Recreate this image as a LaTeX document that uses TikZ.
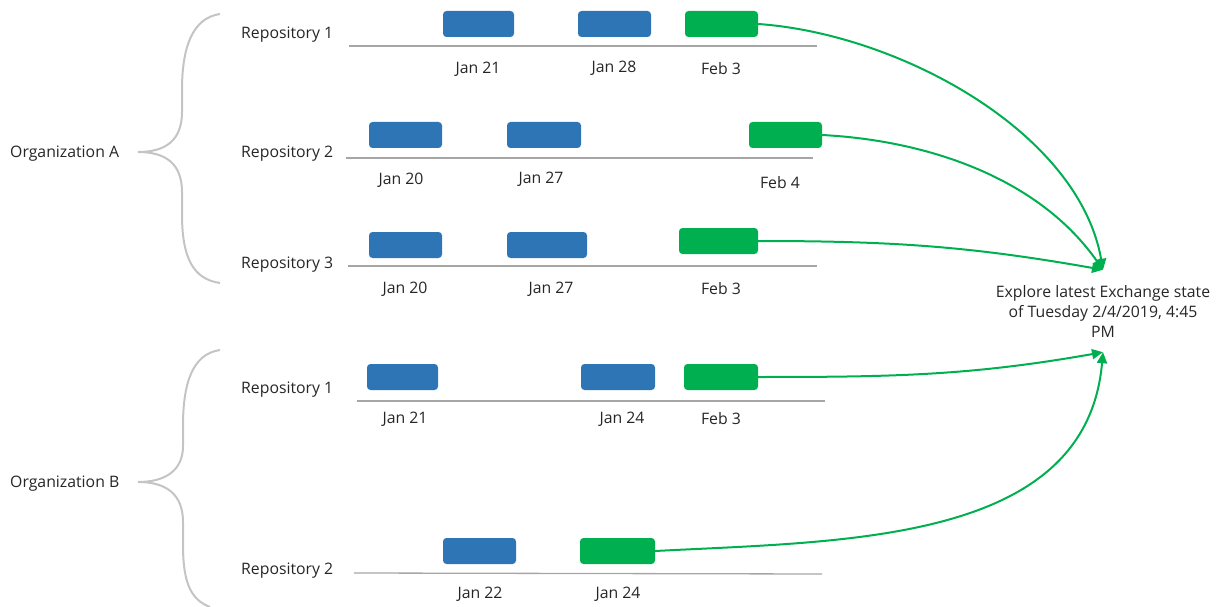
\documentclass[tikz,border=0pt]{standalone}
\usepackage{fontspec}
\setmainfont{Open Sans}
\usepackage{tikz}
\usetikzlibrary{arrows.meta, positioning}
\definecolor{snapblue}{HTML}{2E75B6}
\definecolor{snapgreen}{HTML}{00B050}
\definecolor{bracegray}{HTML}{C4C4C4}
\definecolor{linegray}{HTML}{A6A6A6}
\definecolor{txt}{HTML}{262626}
\tikzstyle{snap} = [rectangle, rounded corners=3.5pt, minimum width=73pt, minimum height=26pt, inner sep=0pt, fill=snapblue]
\tikzstyle{latest} = [snap, fill=snapgreen]
\tikzstyle{brace} = [draw=bracegray, line width=2pt]
\tikzstyle{timeline} = [draw=linegray, line width=1.3pt]
\tikzstyle{arrow} = [draw=snapgreen, line width=2pt, -{Triangle[length=11pt,width=10pt]}]
\tikzstyle{repo} = [anchor=west, inner sep=0pt]

\begin{document}
\begin{tikzpicture}[x=1pt, y=-1pt, every node/.style={font=\fontsize{15.8}{20}\selectfont, text=txt}]
  \useasboundingbox (0,0) rectangle (1216,607);

  % organizations and braces
  \node[anchor=west, inner sep=0pt] (orgA) at (10,154) {Organization A};
  \node[anchor=west, inner sep=0pt] (orgB) at (10,484) {Organization B};
  \draw[brace] (220,14) .. controls (192,18) and (182,48) .. (182,90) -- (182,112)
    .. controls (182,140) and (166,152) .. (138,152)
    .. controls (166,152) and (182,164) .. (182,192) -- (182,214)
    .. controls (182,256) and (192,279) .. (220,283);
  \draw[brace] (220,350) .. controls (192,354) and (183,384) .. (183,426) -- (183,446)
    .. controls (183,470) and (166,482) .. (138,482)
    .. controls (166,482) and (183,494) .. (183,522) -- (183,545)
    .. controls (183,585) and (192,600) .. (210,607);

  % organization A, repository 1
  \node[repo] (a1) at (241,35) {Repository 1};
  \coordinate (a1s) at (349,46);
  \coordinate (a1e) at (817,46);
  \draw[timeline] (a1s) -- (a1e);
  \node[snap, minimum width=71pt] (a1x) at (478.5,24) {};
  \node[snap] (a1y) at (614.5,24) {};
  \node[latest] (a1z) at (721.5,24) {};
  \node (a1xl) at (478,69) {Jan 21};
  \node (a1yl) at (614,68) {Jan 28};
  \node (a1zl) at (721,69) {Feb 3};

  % organization A, repository 2
  \node[repo] (a2) at (241,154) {Repository 2};
  \coordinate (a2s) at (346,158);
  \coordinate (a2e) at (813,158);
  \draw[timeline] (a2s) -- (a2e);
  \node[snap] (a2x) at (405.5,135) {};
  \node[snap, minimum width=74pt] (a2y) at (544,135) {};
  \node[latest] (a2z) at (785.5,135) {};
  \node (a2xl) at (401,180) {Jan 20};
  \node (a2yl) at (541,179) {Jan 27};
  \node (a2zl) at (780,183) {Feb 4};

  % organization A, repository 3
  \node[repo] (a3) at (241,265) {Repository 3};
  \coordinate (a3s) at (348,266);
  \coordinate (a3e) at (817,266);
  \draw[timeline] (a3s) -- (a3e);
  \node[snap] (a3x) at (405.5,245) {};
  \node[snap, minimum width=80pt] (a3y) at (547,245) {};
  \node[latest, minimum width=79pt] (a3z) at (718.5,241) {};
  \node (a3xl) at (405,289) {Jan 20};
  \node (a3yl) at (551,289) {Jan 27};
  \node (a3zl) at (721,289) {Feb 3};

  % organization B, repository 1
  \node[repo] (b1) at (241,390) {Repository 1};
  \coordinate (b1s) at (357,401);
  \coordinate (b1e) at (825,401);
  \draw[timeline] (b1s) -- (b1e);
  \node[snap, minimum width=71pt] (b1x) at (402.5,377) {};
  \node[snap, minimum width=74pt] (b1y) at (618,377) {};
  \node[latest, minimum width=74pt] (b1z) at (721,377) {};
  \node (b1xl) at (405,419) {Jan 21};
  \node (b1yl) at (622,419) {Jan 24};
  \node (b1zl) at (721,419) {Feb 3};

  % organization B, repository 2
  \node[repo] (b2) at (241,571) {Repository 2};
  \coordinate (b2s) at (354,573);
  \coordinate (b2e) at (822,574);
  \draw[timeline] (b2s) -- (b2e);
  \node[snap] (b2x) at (479.5,551) {};
  \node[latest, minimum width=75pt] (b2z) at (617.5,551) {};
  \node (b2xl) at (480,594) {Jan 22};
  \node (b2zl) at (618,594) {Jan 24};

  % latest state
  \node[align=center, inner xsep=0pt, inner ysep=15pt] (state) at (1103,311)
    {Explore latest Exchange state\\of Tuesday 2/4/2019, 4:45\\PM};

  \draw[arrow] (a1z.east) to[out=-4, in=100, looseness=0.85] (state.north);
  \draw[arrow] (a2z.east) to[out=-3, in=125, looseness=0.9] (state.north);
  \draw[arrow] (a3z.east) to[out=0, in=170] (state.north);
  \draw[arrow] (b1z.east) to[out=0, in=190] (state.south);
  \draw[arrow] (b2z.east) to[out=3, in=-95] (state.south);
\end{tikzpicture}
\end{document}
